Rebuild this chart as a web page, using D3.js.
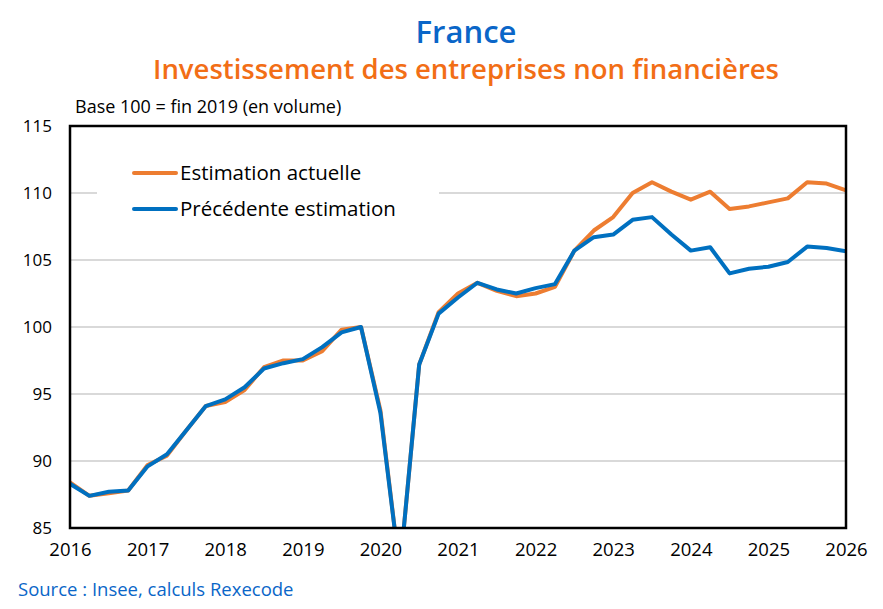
<!DOCTYPE html>
<html>
<head>
<meta charset="utf-8">
<script src="https://cdn.jsdelivr.net/npm/d3@7"></script>
<style>
  body { margin: 0; background: #fff; }
  text { font-family: "Open Sans", Lato, sans-serif; }
</style>
</head>
<body>
<svg id="chart" width="883" height="609"></svg>
<script>
"use strict"

// quarterly points, 2016 T1 -> 2026 T1 (position = year + (q-1)/4)
const years = [2016, 2017, 2018, 2019, 2020, 2021, 2022, 2023, 2024, 2025, 2026];
const yTicks = [85, 90, 95, 100, 105, 110, 115];

const actuelle = [
    88.4, 87.4, 87.6, 87.8, 89.7, 90.4, 92.3, 94.1, 94.4, 95.3, 97.0, 97.5,
    97.5, 98.2, 99.8, 100.0, 93.8, 81.8, 97.2, 101.1, 102.5, 103.3, 102.7, 102.3,
    102.5, 103.0, 105.7, 107.2, 108.2, 110.0, 110.8, 110.1, 109.5, 110.1, 108.8, 109.0,
    109.3, 109.6, 110.8, 110.7, 110.2
];
const precedente = [
    88.3, 87.4, 87.7, 87.8, 89.6, 90.5, 92.3, 94.1, 94.6, 95.5, 96.9, 97.3,
    97.6, 98.5, 99.6, 100.0, 93.6, 81.8, 97.2, 101.0, 102.2, 103.3, 102.8, 102.5,
    102.9, 103.2, 105.7, 106.7, 106.9, 108.0, 108.2, 106.9, 105.7, 105.95, 104.0, 104.35,
    104.5, 104.85, 106.0, 105.9, 105.65
];

const series = [
    { name: "Estimation actuelle", values: actuelle, color: "#ED7D31" },
    { name: "Précédente estimation", values: precedente, color: "#0070C0" }
];

let svg = d3.select("#chart");
let plot = { left: 70, right: 846, top: 126, bottom: 528 };

let x = d3.scaleLinear().domain([2016, 2026]).range([plot.left, plot.right]);
let y = d3.scaleLinear().domain([85, 115]).range([plot.bottom, plot.top]);

// titles
svg.append("text")
    .attr("x", 466).attr("y", 43)
    .attr("text-anchor", "middle")
    .attr("font-size", 31).attr("font-weight", 600)
    .attr("fill", "#0A66C8")
    .text("France");

svg.append("text")
    .attr("x", 466).attr("y", 79)
    .attr("text-anchor", "middle")
    .attr("font-size", 27.5).attr("font-weight", 600)
    .attr("fill", "#F26E16")
    .text("Investissement des entreprises non financières");

svg.append("text")
    .attr("x", 75).attr("y", 113)
    .attr("font-size", 18).attr("fill", "#000")
    .text("Base 100 = fin 2019 (en volume)");

// grid
svg.append("g")
    .selectAll("line")
    .data(yTicks.slice(1, -1))
    .enter().append("line")
    .attr("x1", plot.left).attr("x2", plot.right)
    .attr("y1", d => y(d)).attr("y2", d => y(d))
    .attr("stroke", "#d9d9d9").attr("stroke-width", 2);

// y axis labels
let yAxis = svg.append("g")
    .attr("transform", "translate(" + (plot.left - 18) + ",0)")
    .call(d3.axisLeft(y).tickValues(yTicks).tickSize(0).tickPadding(0));
yAxis.select(".domain").remove();
yAxis.selectAll("text")
    .attr("font-size", 17).attr("fill", "#000")
    .style("font-family", "'Open Sans', Lato, sans-serif");

// x axis labels
let xAxis = svg.append("g")
    .attr("transform", "translate(0," + (plot.bottom + 13) + ")")
    .call(d3.axisBottom(x).tickValues(years).tickFormat(d3.format("d")).tickSize(0).tickPadding(0));
xAxis.select(".domain").remove();
xAxis.selectAll("text")
    .attr("font-size", 18.5).attr("fill", "#000")
    .attr("dy", "0.8em")
    .style("font-family", "'Open Sans', Lato, sans-serif");

// clip
svg.append("clipPath").attr("id", "clip")
    .append("rect")
    .attr("x", plot.left).attr("y", plot.top)
    .attr("width", plot.right - plot.left).attr("height", plot.bottom - plot.top);

// legend box (hides grid behind it)
svg.append("rect")
    .attr("x", 97).attr("y", 146)
    .attr("width", 342).attr("height", 88)
    .attr("fill", "#fff");

let line = d3.line()
    .x((d, i) => x(2016 + i / 4))
    .y(d => y(d));

let lines = svg.append("g").attr("clip-path", "url(#clip)");
lines.selectAll("path")
    .data(series)
    .enter().append("path")
    .attr("d", d => line(d.values))
    .attr("fill", "none")
    .attr("stroke", d => d.color)
    .attr("stroke-width", 4)
    .attr("stroke-linejoin", "round");

// frame
svg.append("rect")
    .attr("x", plot.left).attr("y", plot.top)
    .attr("width", plot.right - plot.left).attr("height", plot.bottom - plot.top)
    .attr("fill", "none").attr("stroke", "#000").attr("stroke-width", 2.5);

// legend
let legend = svg.append("g")
    .selectAll("g")
    .data(series)
    .enter().append("g")
    .attr("transform", (d, i) => "translate(134," + (173 + i * 36) + ")");

legend.append("line")
    .attr("x1", 0).attr("x2", 42)
    .attr("stroke", d => d.color).attr("stroke-width", 4)
    .attr("stroke-linecap", "round");

legend.append("text")
    .attr("x", 46).attr("dy", "0.35em")
    .attr("font-size", 20.5).attr("fill", "#000")
    .text(d => d.name);

// source
svg.append("text")
    .attr("x", 18).attr("y", 596)
    .attr("font-size", 18.5).attr("fill", "#0A66C8")
    .text("Source : Insee, calculs Rexecode");
</script>
</body>
</html>
